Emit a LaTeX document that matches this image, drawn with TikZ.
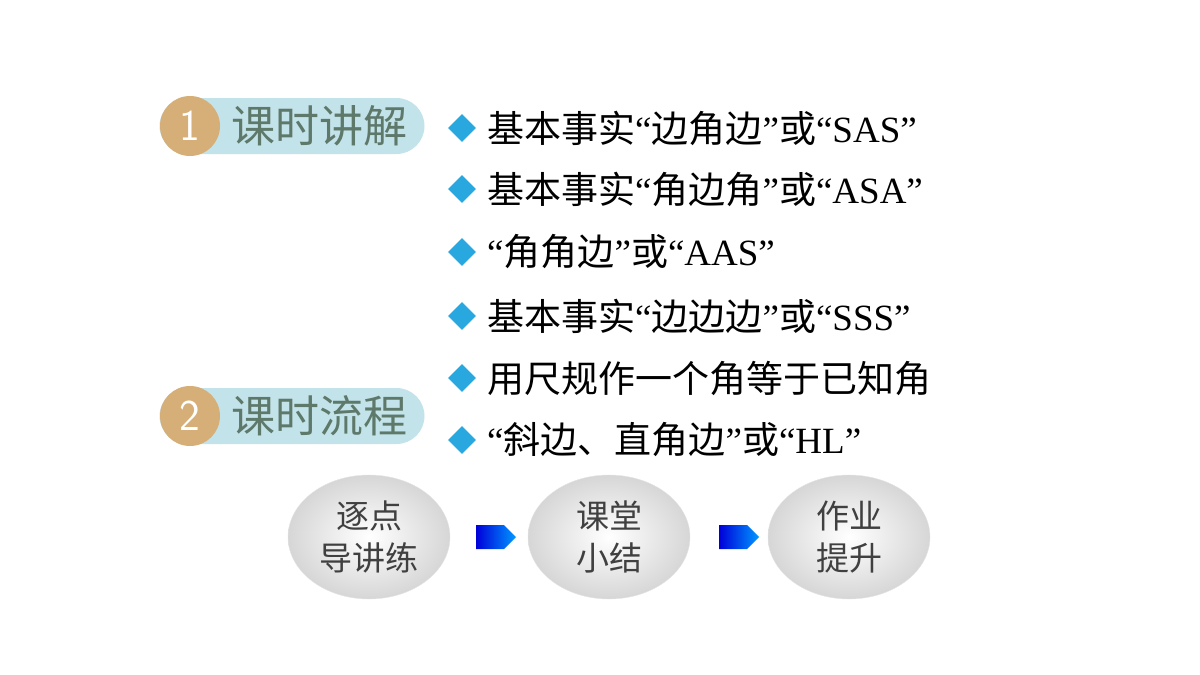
\documentclass[tikz,border=0pt]{standalone}
\usepackage{fontspec}
\setmainfont{Liberation Serif}
\newfontfamily\cjk{Noto Sans CJK SC}
\newfontfamily\numfont{Open Sans Light}
\usetikzlibrary{shapes.geometric,shapes.arrows}
\definecolor{pillblue}{HTML}{C3E3EA}
\definecolor{badge}{HTML}{D6AE78}
\definecolor{pilltext}{HTML}{5E786A}
\definecolor{bulletc}{HTML}{29A8E0}
\newcommand{\q}[1]{{\rmfamily #1}}
\begin{document}
\begin{tikzpicture}[x=1pt,y=-1pt]
    \tikzstyle{pill}=[fill=pillblue,rounded corners=28pt,minimum width=265pt,minimum height=56pt,inner sep=0pt]
    \tikzstyle{badge}=[circle,fill=badge,minimum size=60pt,inner sep=0pt,text=white,font=\sffamily\fontsize{44}{44}\selectfont]
    \tikzstyle{ptext}=[text=pilltext,font=\cjk\fontsize{44}{46}\selectfont]
    \tikzstyle{bullet}=[diamond,fill=bulletc,minimum size=28pt,inner sep=0pt]
    \tikzstyle{item}=[anchor=west,inner sep=0pt,font=\cjk\fontsize{37}{40}\selectfont]
    \tikzstyle{stage}=[ellipse,minimum width=162pt,minimum height=124pt,inner sep=0pt,
        inner color=white,outer color=black!16,draw=black!10,align=center,
        text=black!75,font=\cjk\fontsize{33}{42}\selectfont]
    \tikzstyle{flow}=[single arrow,minimum height=40pt,minimum width=24pt,single arrow head extend=0pt,
        single arrow head indent=0pt,inner sep=4pt,left color=blue!85!black,right color=cyan!60!blue]
    \useasboundingbox (0,0) rectangle (1200,675);

    % Section pills
    \foreach \n/\y/\t in {1/126/课时讲解,2/416/课时流程}{
        \node[pill] (P-\n) at (292,\y) {};
        \node[badge] (N-\n) at (190,\y) {\n};
        \node[ptext] (T-\n) at (319,\y) {\t};
    }

    % Bullet list
    \foreach \i/\y/\t in {1/128/{基本事实\q{“}边角边\q{”}或\q{“SAS”}},
                          2/189/{基本事实\q{“}角边角\q{”}或\q{“ASA”}},
                          3/252/{\q{“}角角边\q{”}或\q{“AAS”}},
                          4/316/{基本事实\q{“}边边边\q{”}或\q{“SSS”}},
                          5/378/{用尺规作一个角等于已知角},
                          6/440/{\q{“}斜边、直角边\q{”}或\q{“HL”}}}{
        \node[bullet] (B-\i) at (462,\y) {};
        \node[item] (L-\i) at (487,\y) {\t};
    }

    % Flow
    \node[stage] (S-1) at (369,537) {逐点\\导讲练};
    \node[stage] (S-2) at (609,537) {课堂\\小结};
    \node[stage] (S-3) at (849,537) {作业\\提升};
    \node[flow] (A-1) at (490,537) {};
    \node[flow] (A-2) at (733,537) {};
\end{tikzpicture}
\end{document}
